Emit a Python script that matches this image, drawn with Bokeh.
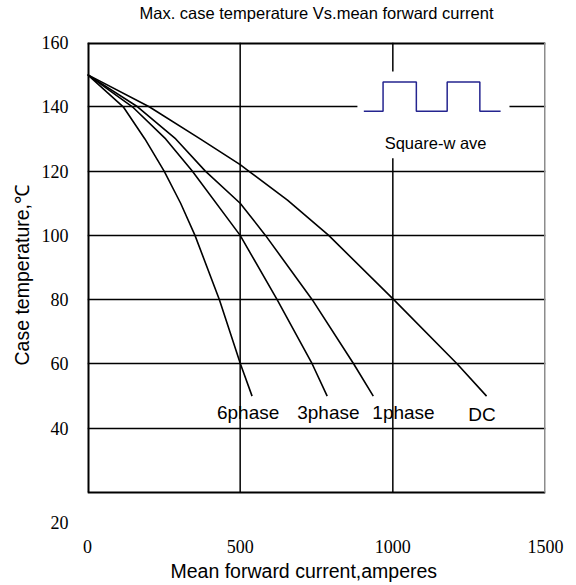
from bokeh.plotting import figure
from bokeh.models import FixedTicker, Range1d, Title, LinearAxis
from bokeh.core.properties import value
from bokeh.embed import file_html
from bokeh.resources import INLINE

# ---------------- data ----------------
title_text = "Max. case temperature Vs.mean forward current"
x_title = "Mean forward current,amperes"
y_title = "Case temperature,\u2103"

x_ticks = [0, 500, 1000, 1500]
y_ticks = [40, 60, 80, 100, 120, 140, 160]
y_low_tick = "20"

series_names = ["6phase", "3phase", "1phase", "DC"]

current_6phase = [0, 117, 188, 251, 305, 352, 432, 501, 539]
temp_6phase = [150, 140, 130, 120, 110, 100, 80, 60, 50]

current_3phase = [0, 147, 256, 343, 500, 621, 736, 785]
temp_3phase = [150, 140, 130, 120, 100, 80, 60, 50]

current_1phase = [0, 164, 289, 386, 500, 583, 736, 872, 936]
temp_1phase = [150, 140, 130, 120, 110, 100, 80, 60, 50]

current_dc = [0, 202, 369, 500, 528, 655, 790, 1003, 1211, 1307]
temp_dc = [150, 140, 130, 122, 120, 111, 100, 80, 60, 50]

label_x = [526, 789, 1035, 1292]
label_y = [45.0, 45.0, 45.0, 44.2]

# square-wave legend icon
wave_x = [905, 968, 968, 1077, 1077, 1178, 1178, 1285, 1285, 1353]
wave_y = [138.6, 138.6, 147.7, 147.7, 138.6, 138.6, 147.7, 147.7, 138.6, 138.6]
wave_text = "Square-w ave"
wave_text_pos = (1140, 128.7)
legend_box = dict(left=884, right=1382, bottom=124, top=151)

# ---------------- layout ----------------
X_MIN, X_MAX = 0, 1500
Y_MIN, Y_MAX = 20, 160
Y_VIEW_MIN = 6.65          # frame extends below the box so the stray "20" label fits
Y_LOW_LABEL_AT = 10.7      # where the original drew its "20" label

SANS = "Liberation Sans"
SERIF = "Liberation Serif"

p = figure(width=576, height=585,
           x_range=Range1d(X_MIN, X_MAX), y_range=Range1d(Y_VIEW_MIN, Y_MAX),
           output_backend="svg", toolbar_location=None,
           min_border_left=87, min_border_right=31,
           min_border_top=41, min_border_bottom=50)

p.background_fill_color = "white"
p.border_fill_color = "white"
p.outline_line_color = None

bottom_axis = p.below[0]
left_axis = p.left[0]

for ax in (bottom_axis, left_axis):
    ax.axis_line_color = None
    ax.major_tick_line_color = None
    ax.minor_tick_line_color = None
    ax.major_tick_in = 0
    ax.major_tick_out = 0
    ax.major_label_text_font = SERIF
    ax.major_label_text_font_size = "18px"
    ax.major_label_text_color = "black"

bottom_axis.ticker = FixedTicker(ticks=x_ticks, minor_ticks=[])
left_axis.ticker = FixedTicker(ticks=[Y_LOW_LABEL_AT] + y_ticks, minor_ticks=[])
left_axis.major_label_overrides = {Y_LOW_LABEL_AT: y_low_tick}
bottom_axis.major_label_standoff = 4
left_axis.major_label_standoff = 19

# chart title drawn as the label of an empty top axis (keeps it close to the top edge)
top_axis = LinearAxis(ticker=FixedTicker(ticks=[], minor_ticks=[]),
                      axis_label=title_text,
                      axis_line_color=None, major_tick_line_color=None,
                      minor_tick_line_color=None, major_tick_in=0, major_tick_out=0,
                      major_label_standoff=0, axis_label_standoff=21,
                      axis_label_text_font=SANS, axis_label_text_font_style="normal",
                      axis_label_text_font_size="16.5px", axis_label_text_color="black")
p.add_layout(top_axis, "above")

# axis titles as side titles (allow the original's off-centre placement)
p.add_layout(Title(text=x_title, align="left", offset=83, standoff=4,
                   text_font=SANS, text_font_style="normal",
                   text_font_size="19.5px", text_color="black"), "below")
p.add_layout(Title(text=y_title, align="left", offset=170, standoff=12,
                   text_font=SANS, text_font_style="normal",
                   text_font_size="19.5px", text_color="black"), "left")

# horizontal grid
p.xgrid.grid_line_color = None
p.ygrid.ticker = FixedTicker(ticks=y_ticks[:-1], minor_ticks=[])
p.ygrid.grid_line_color = "black"
p.ygrid.grid_line_width = 1.5

# vertical grid lines inside the box
inner_x = [t for t in x_ticks if X_MIN < t < X_MAX]
p.segment(x0=inner_x, y0=[Y_MIN] * len(inner_x), x1=inner_x, y1=[Y_MAX] * len(inner_x),
          line_color="black", line_width=1.5)

# white box behind the legend icon (breaks the grid)
p.quad(left=[legend_box["left"]], right=[legend_box["right"]],
       bottom=[legend_box["bottom"]], top=[legend_box["top"]],
       fill_color="white", line_color=None)

# chart box
p.segment(x0=[X_MIN, X_MIN, X_MIN], y0=[Y_MIN, Y_MAX, Y_MIN],
          x1=[X_MAX, X_MAX, X_MIN], y1=[Y_MIN, Y_MAX, Y_MAX],
          line_color="black", line_width=[2, 4, 4])
p.segment(x0=[X_MAX], y0=[Y_MIN], x1=[X_MAX], y1=[Y_MAX],
          line_color="#8c8c8c", line_width=3)

# curves
for xs, ys in [(current_6phase, temp_6phase), (current_3phase, temp_3phase),
               (current_1phase, temp_1phase), (current_dc, temp_dc)]:
    p.line(xs, ys, line_color="black", line_width=1.6, line_join="round")

# curve labels
p.text(x=label_x, y=label_y, text=series_names,
       text_font=value(SANS), text_font_size="19px",
       text_align="center", text_baseline="middle", text_color="black")

# square wave
p.line(wave_x, wave_y, line_color="#24248f", line_width=1.5)
p.text(x=[wave_text_pos[0]], y=[wave_text_pos[1]], text=[wave_text],
       text_font=value(SANS), text_font_size="16.5px",
       text_align="center", text_baseline="middle", text_color="black")

open("out.html", "w").write(file_html(p, INLINE))
